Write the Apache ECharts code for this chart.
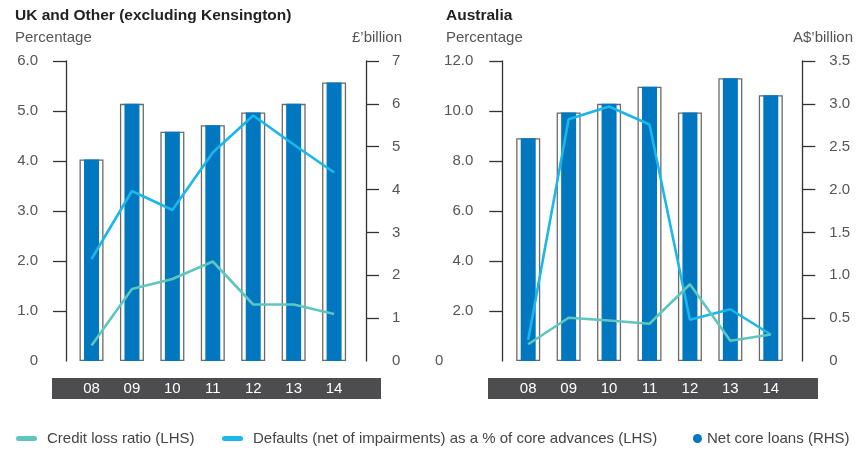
<!DOCTYPE html>
<html>
<head>
<meta charset="utf-8">
<title>Credit loss ratio, defaults and net core loans</title>
<script src="https://cdn.jsdelivr.net/npm/echarts@6/dist/echarts.min.js"></script>
<style>
  html, body { margin: 0; padding: 0; background: #ffffff; }
  #chart { width: 866px; height: 452px; }
</style>
</head>
<body>
<div id="chart"></div>
<script>
// ---- data ----
const years = ['08', '09', '10', '11', '12', '13', '14'];

// UK and Other (excluding Kensington)
const ukCreditLoss = [0.31, 1.44, 1.64, 1.99, 1.13, 1.13, 0.94];   // %
const ukDefaults   = [2.04, 3.40, 3.02, 4.17, 4.91, 4.33, 3.77];   // %
const ukLoans      = [4.7, 6.0, 5.35, 5.5, 5.8, 6.0, 6.5];         // £bn

// Australia
const auCreditLoss = [0.67, 1.73, 1.62, 1.49, 3.07, 0.81, 1.06];   // %
const auDefaults   = [0.85, 9.67, 10.18, 9.46, 1.65, 2.07, 1.06];  // %
const auLoans      = [2.6, 2.9, 3.0, 3.2, 2.9, 3.3, 3.1];          // A$bn

// axis ticks and their labels
const ukPctTicks   = [0, 1, 2, 3, 4, 5, 6];
const ukPctLabels  = ['0', '1.0', '2.0', '3.0', '4.0', '5.0', '6.0'];
const ukBnTicks    = [0, 1, 2, 3, 4, 5, 6, 7];
const ukBnLabels   = ['0', '1', '2', '3', '4', '5', '6', '7'];
const auPctTicks   = [0, 2, 4, 6, 8, 10, 12];
const auPctLabels  = ['0', '2.0', '4.0', '6.0', '8.0', '10.0', '12.0'];
const auBnTicks    = [0, 0.5, 1, 1.5, 2, 2.5, 3, 3.5];
const auBnLabels   = ['0', '0.5', '1.0', '1.5', '2.0', '2.5', '3.0', '3.5'];

const NAME_CREDIT   = 'Credit loss ratio (LHS)';
const NAME_DEFAULTS = 'Defaults (net of impairments) as a % of core advances (LHS)';
const NAME_LOANS    = 'Net core loans (RHS)';

// ---- styling ----
const FONT = "'Liberation Sans', Arial, Helvetica, sans-serif";
const AXIS_COLOR = '#333333';
const LABEL_COLOR = '#555555';
const TEAL = '#5ec6bf';
const SKY = '#1bb6ea';
const BLUE = '#0077bf';
const STRIP = '#4d4d4f';
const PILL = 'path://M2.5,0 L18.5,0 A2.5,2.5 0 0 1 18.5,5 L2.5,5 A2.5,2.5 0 0 1 2.5,0 Z';

function valueAxis(gridIndex, position, ticks, labels, offset, margin, zeroPad) {
  const step = ticks[1] - ticks[0];
  return {
    type: 'value',
    gridIndex: gridIndex,
    position: position,
    min: ticks[0],
    max: ticks[ticks.length - 1],
    interval: step,
    offset: offset,
    axisLine: { show: true, lineStyle: { color: AXIS_COLOR, width: 1.3 } },
    axisTick: {
      show: true, length: 13,
      lineStyle: { color: AXIS_COLOR, width: 1.3 },
      customValues: ticks.filter(v => v > 0)
    },
    axisLabel: {
      margin: margin,
      color: LABEL_COLOR,
      fontSize: 15,
      fontFamily: FONT,
      formatter: function (v) {
        const i = Math.round((v - ticks[0]) / step);
        if (i === 0 && zeroPad) return '{z|' + labels[0] + '}';
        return labels[i];
      },
      rich: {
        z: { padding: [0, zeroPad || 0, 0, 0], color: LABEL_COLOR, fontSize: 15, fontFamily: FONT }
      }
    },
    splitLine: { show: false }
  };
}

function categoryAxis(gridIndex) {
  return {
    type: 'category',
    gridIndex: gridIndex,
    data: years,
    position: 'bottom',
    axisLine: { show: false },
    axisTick: { show: false },
    axisLabel: { color: '#ffffff', fontSize: 15, fontFamily: FONT, margin: 20 }
  };
}

function hiddenCategoryAxis(gridIndex) {
  return { type: 'category', gridIndex: gridIndex, data: years, show: false };
}

function panelSeries(k, creditLoss, defaults, loans) {
  return [
    {
      type: 'bar', xAxisIndex: k * 2 + 1, yAxisIndex: k * 2 + 1,
      data: loans, barWidth: 24, silent: true, z: 1,
      itemStyle: { color: '#ffffff', borderColor: '#6a6a6a', borderWidth: 1.3 }
    },
    {
      name: NAME_LOANS, type: 'bar', xAxisIndex: k * 2, yAxisIndex: k * 2 + 1,
      data: loans, barWidth: 15, z: 2,
      itemStyle: { color: BLUE }
    },
    {
      name: NAME_DEFAULTS, type: 'line', xAxisIndex: k * 2, yAxisIndex: k * 2,
      data: defaults, showSymbol: false, z: 3,
      itemStyle: { color: SKY },
      lineStyle: { color: SKY, width: 2.6 }
    },
    {
      name: NAME_CREDIT, type: 'line', xAxisIndex: k * 2, yAxisIndex: k * 2,
      data: creditLoss, showSymbol: false, z: 3,
      itemStyle: { color: TEAL },
      lineStyle: { color: TEAL, width: 2.6 }
    }
  ];
}

const headStyle = { fontSize: 15.5, fontWeight: 'bold', color: '#222222', fontFamily: FONT };
const unitStyle = { fontSize: 15, fontWeight: 'normal', color: LABEL_COLOR, fontFamily: FONT };
const legendText = { fontSize: 15, color: '#444444', fontFamily: FONT, padding: [0, 0, 0, 5] };
const legendTextTight = { fontSize: 15, color: '#444444', fontFamily: FONT };

const option = {
  animation: false,
  backgroundColor: '#ffffff',
  title: [
    { text: 'UK and Other (excluding Kensington)', left: 15, top: 8, padding: 0, textStyle: headStyle },
    { text: 'Percentage', left: 15, top: 30, padding: 0, textStyle: unitStyle },
    { text: '£’billion', right: 464, top: 30, padding: 0, textStyle: unitStyle },
    { text: 'Australia', left: 446, top: 8, padding: 0, textStyle: headStyle },
    { text: 'Percentage', left: 446, top: 30, padding: 0, textStyle: unitStyle },
    { text: 'A$’billion', right: 13, top: 30, padding: 0, textStyle: unitStyle }
  ],
  legend: [
    { left: 16, top: 431, selectedMode: false, itemWidth: 21, itemHeight: 5, padding: 0,
      data: [{ name: NAME_CREDIT, icon: PILL }], textStyle: legendText },
    { left: 222, top: 431, selectedMode: false, itemWidth: 21, itemHeight: 5, padding: 0,
      data: [{ name: NAME_DEFAULTS, icon: PILL }], textStyle: legendText },
    { left: 693, top: 431, selectedMode: false, itemWidth: 9, itemHeight: 9, padding: 0,
      data: [{ name: NAME_LOANS, icon: 'circle' }], textStyle: legendTextTight }
  ],
  graphic: [
    { type: 'rect', z: -1, shape: { x: 52, y: 378, width: 329, height: 21 }, style: { fill: STRIP } },
    { type: 'rect', z: -1, shape: { x: 488, y: 378, width: 330, height: 21 }, style: { fill: STRIP } }
  ],
  grid: [
    { left: 71.3, top: 61, width: 283, height: 300 },
    { left: 508, top: 61, width: 283, height: 300 }
  ],
  xAxis: [
    categoryAxis(0), hiddenCategoryAxis(0),
    categoryAxis(1), hiddenCategoryAxis(1)
  ],
  yAxis: [
    valueAxis(0, 'left', ukPctTicks, ukPctLabels, 5.3, 28, 0),
    valueAxis(0, 'right', ukBnTicks, ukBnLabels, 11.7, 26, 0),
    valueAxis(1, 'left', auPctTicks, auPctLabels, 5.7, 29, 30),
    valueAxis(1, 'right', auBnTicks, auBnLabels, 11.3, 27, 0)
  ],
  series: [].concat(
    panelSeries(0, ukCreditLoss, ukDefaults, ukLoans),
    panelSeries(1, auCreditLoss, auDefaults, auLoans)
  )
};

const chart = echarts.init(document.getElementById('chart'), null, { renderer: 'canvas' });
chart.setOption(option);
</script>
</body>
</html>
